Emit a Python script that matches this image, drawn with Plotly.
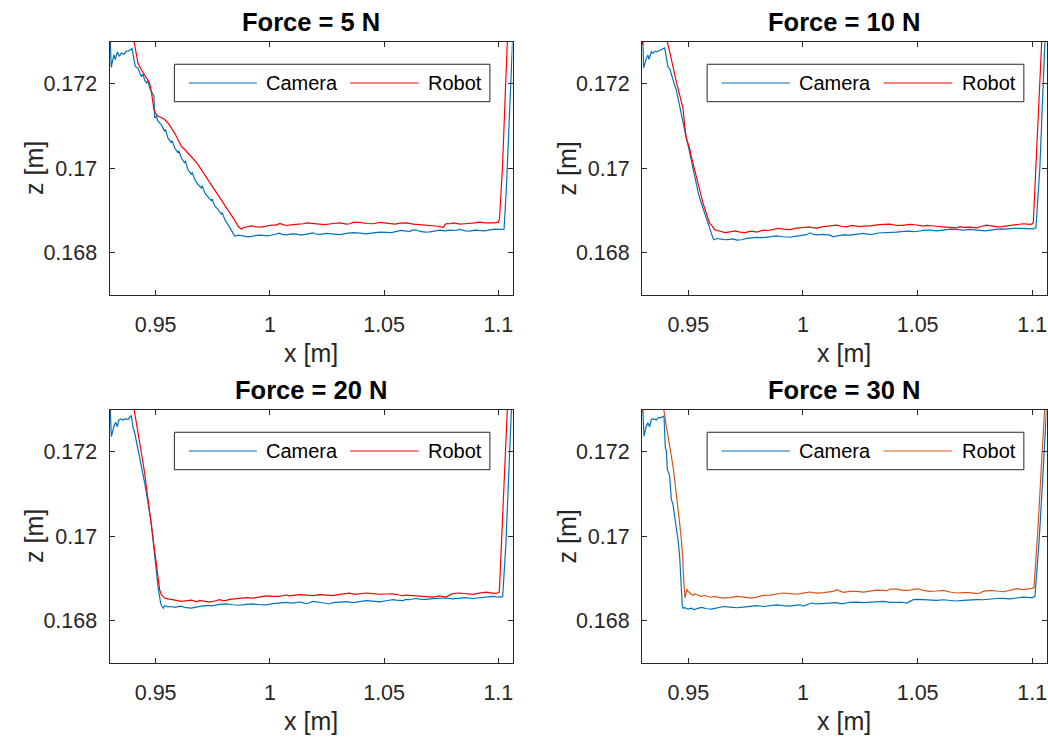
import plotly.graph_objects as go

# ---------------- data ----------------
X_TICKS = [0.95, 1.0, 1.05, 1.1]
X_TICKTEXT = ["0.95", "1", "1.05", "1.1"]
Z_TICKS = [0.168, 0.170, 0.172]
Z_TICKTEXT = ["0.168", "0.17", "0.172"]
X_RANGE = [0.9298, 1.1062]
Z_RANGE = [0.16699, 0.17299]

TITLES = ["Force = 5 N", "Force = 10 N", "Force = 20 N", "Force = 30 N"]
SERIES_NAMES = ["Camera", "Robot"]

# each series: list of (x [m], z [m]) samples
cam5 = [
    (0.9300, 0.17320), (0.93057, 0.17239), (0.93174, 0.17269), (0.93233, 0.17257), (0.93320, 0.17275),
    (0.93422, 0.17265), (0.93495, 0.17273), (0.93612, 0.17270), (0.93715, 0.17277), (0.93817, 0.17278),
    (0.93963, 0.17284), (0.94051, 0.17253), (0.94109, 0.17241), (0.94226, 0.17237), (0.94299, 0.17225),
    (0.94372, 0.17217), (0.94445, 0.17223), (0.94518, 0.17209), (0.94591, 0.17202), (0.94664, 0.17207),
    (0.94737, 0.17190), (0.94810, 0.17182), (0.94883, 0.17174), (0.94927, 0.17170), (0.94956, 0.17119),
    (0.95029, 0.17123), (0.95102, 0.17111), (0.95248, 0.17103), (0.95394, 0.17087), (0.95430, 0.17092),
    (0.95540, 0.17071), (0.95687, 0.17060), (0.95720, 0.17065), (0.95833, 0.17048), (0.95979, 0.17036),
    (0.96010, 0.17041), (0.96125, 0.17024), (0.96271, 0.17012), (0.96300, 0.17017), (0.96417, 0.16996),
    (0.96563, 0.16985), (0.96600, 0.16990), (0.96709, 0.16973), (0.96855, 0.16961), (0.97001, 0.16953),
    (0.97040, 0.16958), (0.97147, 0.16941), (0.97293, 0.16931), (0.97439, 0.16922), (0.97470, 0.16927),
    (0.97585, 0.16910), (0.97731, 0.16902), (0.97878, 0.16890), (0.97910, 0.16895), (0.98024, 0.16878),
    (0.98170, 0.16866), (0.98316, 0.16852), (0.98462, 0.16839),
    (0.98645, 0.16841), (0.98827, 0.168394), (0.99046, 0.16837), (0.99265, 0.168387), (0.99484, 0.16841),
    (0.99703, 0.168402), (0.99922, 0.16839), (1.00142, 0.168418), (1.00288, 0.16844), (1.00434, 0.168458),
    (1.00580, 0.16842), (1.00726, 0.168418), (1.00945, 0.16844), (1.01164, 0.168434), (1.01383, 0.16841),
    (1.01602, 0.168426), (1.01748, 0.16845), (1.01895, 0.168465), (1.02041, 0.16843), (1.02187, 0.168426),
    (1.02479, 0.16845), (1.02771, 0.168434), (1.03063, 0.16842), (1.03355, 0.168450), (1.03647, 0.16847),
    (1.03940, 0.168458), (1.04232, 0.16844), (1.04524, 0.168465), (1.04816, 0.16848), (1.05108, 0.168473),
    (1.05327, 0.16847), (1.05546, 0.168497), (1.05765, 0.16852), (1.05985, 0.168505), (1.06131, 0.16850),
    (1.06277, 0.168536), (1.06423, 0.16853), (1.06569, 0.168497), (1.06788, 0.16848), (1.07007, 0.168489),
    (1.07226, 0.16851), (1.07445, 0.168529), (1.07664, 0.16851), (1.07884, 0.168529), (1.08103, 0.16852),
    (1.08322, 0.168544), (1.08541, 0.16851), (1.08760, 0.168505), (1.08979, 0.16853), (1.09198, 0.168529),
    (1.09417, 0.16851), (1.09636, 0.168536), (1.09855, 0.16855), (1.10075, 0.168544), (1.10250, 0.168552),
    (1.1035, 0.16950), (1.1045, 0.17070), (1.1055, 0.17200), (1.1063, 0.17310),
]
rob5 = [
    (0.9299, 0.17292), (0.9304, 0.17400), (0.9372, 0.17400), (0.94051, 0.17299), (0.94153, 0.17269),
    (0.94226, 0.17249), (0.94372, 0.17233), (0.94518, 0.17221), (0.94664, 0.17209), (0.94737, 0.17202),
    (0.94810, 0.17182), (0.94883, 0.17154), (0.94927, 0.17138), (0.95029, 0.17128), (0.95102, 0.17123),
    (0.95248, 0.17120), (0.95394, 0.17115), (0.95540, 0.17107), (0.95687, 0.17095), (0.95833, 0.17083),
    (0.95979, 0.17067), (0.96125, 0.17052), (0.96271, 0.17044), (0.96417, 0.17036), (0.96563, 0.17026),
    (0.96709, 0.17018), (0.96855, 0.17008), (0.97001, 0.16996), (0.97147, 0.16985), (0.97293, 0.16973),
    (0.97439, 0.16961), (0.97585, 0.16949), (0.97731, 0.16939), (0.97878, 0.16925), (0.98024, 0.16914),
    (0.98170, 0.16902), (0.98316, 0.16890), (0.98462, 0.16876), (0.98608, 0.16862), (0.98754, 0.168552),
    (0.98864, 0.16859), (0.98973, 0.168607), (0.99192, 0.16863), (0.99411, 0.168607), (0.99630, 0.16860),
    (0.99849, 0.168623), (1.00068, 0.16865), (1.00288, 0.168647), (1.00434, 0.168686), (1.00580, 0.16866),
    (1.00726, 0.168639), (1.01018, 0.16866), (1.01310, 0.168670), (1.01456, 0.16868), (1.01602, 0.168702),
    (1.01821, 0.16869), (1.02041, 0.168670), (1.02406, 0.16866), (1.02771, 0.168686), (1.03063, 0.16870),
    (1.03355, 0.168670), (1.03501, 0.16868), (1.03647, 0.168710), (1.03940, 0.16871), (1.04232, 0.168686),
    (1.04524, 0.16868), (1.04816, 0.168710), (1.05035, 0.16870), (1.05254, 0.168686), (1.05473, 0.16867),
    (1.05692, 0.168694), (1.05985, 0.16870), (1.06277, 0.168670), (1.06569, 0.16866), (1.06861, 0.168647),
    (1.07007, 0.16865), (1.07153, 0.168639), (1.07372, 0.16862), (1.07591, 0.168592), (1.07664, 0.16866),
    (1.07737, 0.168686), (1.07884, 0.16868), (1.08030, 0.168702), (1.08176, 0.16869), (1.08322, 0.168670),
    (1.08541, 0.16868), (1.08760, 0.168686), (1.08979, 0.16870), (1.09198, 0.168718), (1.09417, 0.16870),
    (1.09636, 0.168702), (1.09818, 0.16870), (1.10001, 0.168718),
    (1.1005, 0.16880), (1.1018, 0.17000), (1.1030, 0.17150), (1.1040, 0.17310),
]

cam10 = [
    (0.93010, 0.17320), (0.93052, 0.17238), (0.93169, 0.17260), (0.93241, 0.17268), (0.93285, 0.17258),
    (0.93387, 0.17276), (0.93459, 0.17272), (0.93532, 0.17277), (0.93648, 0.17276), (0.93750, 0.17280),
    (0.93852, 0.17282), (0.93968, 0.17285), (0.94041, 0.17260), (0.94113, 0.17240), (0.94186, 0.17236),
    (0.94259, 0.17221), (0.94331, 0.17205), (0.94404, 0.17197), (0.94477, 0.17185), (0.94549, 0.17165),
    (0.94622, 0.17150), (0.94695, 0.17126), (0.94767, 0.17110), (0.94840, 0.17090), (0.94913, 0.17071),
    (0.94985, 0.17055), (0.95058, 0.17035), (0.95131, 0.17015), (0.95203, 0.16996), (0.95276, 0.16976),
    (0.95349, 0.16960), (0.95422, 0.16944), (0.95494, 0.16929), (0.95567, 0.16917), (0.95640, 0.16905),
    (0.95712, 0.16893), (0.95785, 0.16881), (0.95858, 0.16869), (0.95930, 0.16853), (0.96003, 0.16842),
    (0.96076, 0.16834), (0.96119, 0.16830),
    (0.96250, 0.16833), (0.96381, 0.168323), (0.96599, 0.16830), (0.96817, 0.168308), (0.96962, 0.16832),
    (0.97108, 0.168292), (0.97326, 0.16830), (0.97544, 0.168331), (0.97762, 0.16835), (0.97980, 0.168355),
    (0.98270, 0.16835), (0.98561, 0.168371), (0.98852, 0.16839), (0.99142, 0.168371), (0.99433, 0.16836),
    (0.99724, 0.168387), (0.99870, 0.16840), (1.00015, 0.168402), (1.00160, 0.16842), (1.00305, 0.168465),
    (1.00450, 0.16843), (1.00596, 0.168418), (1.00887, 0.16843), (1.01177, 0.168410), (1.01250, 0.16839),
    (1.01323, 0.168371), (1.01541, 0.16840), (1.01759, 0.168418), (1.02050, 0.16841), (1.02340, 0.168434),
    (1.02486, 0.16845), (1.02631, 0.168450), (1.02849, 0.16843), (1.03067, 0.168434), (1.03285, 0.16846),
    (1.03503, 0.168465), (1.03794, 0.16846), (1.04084, 0.168481), (1.04375, 0.16850), (1.04666, 0.168505),
    (1.04884, 0.16849), (1.05102, 0.168513), (1.05320, 0.16853), (1.05538, 0.168529), (1.05828, 0.16851),
    (1.06119, 0.168529), (1.06410, 0.16855), (1.06701, 0.168544), (1.06991, 0.16853), (1.07282, 0.168544),
    (1.07500, 0.16854), (1.07718, 0.168521), (1.07936, 0.16851), (1.08154, 0.168529), (1.08372, 0.16855),
    (1.08590, 0.168560), (1.08881, 0.16855), (1.09172, 0.168568), (1.09535, 0.16857), (1.09898, 0.168560),
    (1.10029, 0.16856), (1.10160, 0.168584),
    (1.1033, 0.17000), (1.1044, 0.17150), (1.1056, 0.17310),
]
rob10 = [
    (0.9299, 0.17292), (0.9304, 0.17400), (0.9395, 0.17400), (0.94084, 0.17299), (0.94186, 0.17276),
    (0.94259, 0.17256), (0.94331, 0.17236), (0.94404, 0.17221), (0.94477, 0.17205), (0.94549, 0.17189),
    (0.94622, 0.17173), (0.94695, 0.17153), (0.94767, 0.17142), (0.94840, 0.17102), (0.94913, 0.17071),
    (0.94985, 0.17059), (0.95058, 0.17047), (0.95131, 0.17027), (0.95203, 0.17011), (0.95276, 0.16992),
    (0.95349, 0.16976), (0.95422, 0.16960), (0.95494, 0.16944), (0.95567, 0.16929), (0.95640, 0.16917),
    (0.95712, 0.16905), (0.95785, 0.16893), (0.95858, 0.16881), (0.95930, 0.16869), (0.96003, 0.16865),
    (0.96076, 0.16858), (0.96148, 0.16854),
    (0.96265, 0.16852), (0.96381, 0.168505), (0.96599, 0.16847), (0.96817, 0.168489), (0.97035, 0.16851),
    (0.97253, 0.168481), (0.97471, 0.16847), (0.97689, 0.168497), (0.97835, 0.16850), (0.97980, 0.168481),
    (0.98125, 0.16850), (0.98270, 0.168529), (0.98488, 0.16852), (0.98706, 0.168544), (0.98924, 0.16857),
    (0.99142, 0.168552), (0.99433, 0.16854), (0.99724, 0.168576), (1.00015, 0.16860), (1.00305, 0.168607),
    (1.00450, 0.16858), (1.00596, 0.168576), (1.00887, 0.16861), (1.01177, 0.168623), (1.01323, 0.16863),
    (1.01468, 0.168647), (1.01686, 0.16862), (1.01904, 0.168607), (1.02122, 0.16864), (1.02340, 0.168623),
    (1.02486, 0.16861), (1.02631, 0.168623), (1.02922, 0.16863), (1.03212, 0.168655), (1.03358, 0.16865),
    (1.03503, 0.168663), (1.03794, 0.16867), (1.04084, 0.168639), (1.04375, 0.16864), (1.04666, 0.168663),
    (1.04957, 0.16865), (1.05247, 0.168623), (1.05393, 0.16864), (1.05538, 0.168639), (1.05828, 0.16862),
    (1.06119, 0.168607), (1.06410, 0.16860), (1.06701, 0.168584), (1.06846, 0.16861), (1.06991, 0.168592),
    (1.07282, 0.16860), (1.07573, 0.168584), (1.07791, 0.16862), (1.08009, 0.168647), (1.08227, 0.16863),
    (1.08445, 0.168607), (1.08663, 0.16861), (1.08881, 0.168623), (1.09099, 0.16865), (1.09317, 0.168663),
    (1.09608, 0.16868), (1.09898, 0.168663), (1.09971, 0.16867), (1.10044, 0.168702),
    (1.1018, 0.17020), (1.1030, 0.17170), (1.1042, 0.17310),
]

cam20 = [
    (0.9300, 0.17320), (0.93061, 0.17236), (0.93178, 0.17261), (0.93251, 0.17270), (0.93324, 0.17259),
    (0.93382, 0.17275), (0.93469, 0.17278), (0.93571, 0.17275), (0.93673, 0.17278), (0.93790, 0.17277),
    (0.93936, 0.17286), (0.94009, 0.17257), (0.94082, 0.17245), (0.94155, 0.17225), (0.94227, 0.17206),
    (0.94300, 0.17190), (0.94373, 0.17174), (0.94446, 0.17150), (0.94519, 0.17126), (0.94592, 0.17103),
    (0.94665, 0.17079), (0.94738, 0.17055), (0.94810, 0.17031), (0.94883, 0.16992), (0.94956, 0.16952),
    (0.95000, 0.16920), (0.95044, 0.16905), (0.95102, 0.16881), (0.95146, 0.16865), (0.95219, 0.16841),
    (0.95277, 0.16833), (0.95335, 0.16829), (0.95394, 0.16835), (0.95539, 0.16832), (0.95685, 0.16833),
    (0.95831, 0.16831),
    (0.96086, 0.16834), (0.96341, 0.168301), (0.96560, 0.16829), (0.96778, 0.168317), (0.96997, 0.16834),
    (0.97216, 0.168349), (0.97508, 0.16835), (0.97799, 0.168380), (0.98090, 0.16839), (0.98382, 0.168372),
    (0.98674, 0.16836), (0.98965, 0.168380), (0.99257, 0.16839), (0.99548, 0.168372), (0.99840, 0.16837),
    (1.00131, 0.168396), (1.00423, 0.16842), (1.00714, 0.168428), (1.01006, 0.16841), (1.01297, 0.168436),
    (1.01443, 0.16842), (1.01589, 0.168396), (1.01735, 0.16842), (1.01880, 0.168451), (1.02172, 0.16843),
    (1.02464, 0.168396), (1.02610, 0.16839), (1.02755, 0.168420), (1.03047, 0.16844), (1.03338, 0.168444),
    (1.03630, 0.16842), (1.03921, 0.168444), (1.04213, 0.16847), (1.04504, 0.168459), (1.04796, 0.16844),
    (1.05087, 0.168467), (1.05233, 0.16848), (1.05379, 0.168491), (1.05525, 0.16848), (1.05670, 0.168467),
    (1.05816, 0.16847), (1.05962, 0.168499), (1.06108, 0.16849), (1.06254, 0.168507), (1.06400, 0.16852),
    (1.06545, 0.168507), (1.06837, 0.16850), (1.07128, 0.168515), (1.07420, 0.16853), (1.07711, 0.168531),
    (1.08003, 0.16851), (1.08294, 0.168523), (1.08440, 0.16854), (1.08586, 0.168539), (1.08878, 0.16852),
    (1.09169, 0.168539), (1.09461, 0.16856), (1.09752, 0.168570), (1.09971, 0.16855), (1.10190, 0.168562),
    (1.1033, 0.16980), (1.1046, 0.17140), (1.1058, 0.17310),
]
rob20 = [
    (0.9299, 0.17292), (0.9304, 0.17400), (0.9390, 0.17400), (0.94052, 0.17301), (0.94155, 0.17269),
    (0.94227, 0.17245), (0.94300, 0.17221), (0.94373, 0.17202), (0.94446, 0.17178), (0.94519, 0.17150),
    (0.94592, 0.17118), (0.94665, 0.17087), (0.94738, 0.17055), (0.94810, 0.17023), (0.94883, 0.16984),
    (0.94956, 0.16952), (0.95029, 0.16928), (0.95102, 0.16897), (0.95175, 0.16873), (0.95248, 0.16861),
    (0.95321, 0.16857), (0.95394, 0.16853), (0.95539, 0.16851), (0.95685, 0.16849),
    (0.95904, 0.168475), (0.96123, 0.16845), (0.96341, 0.168459), (0.96560, 0.16848), (0.96778, 0.168444),
    (0.96851, 0.16845), (0.96924, 0.168475), (0.97143, 0.16846), (0.97362, 0.168436), (0.97580, 0.16846),
    (0.97799, 0.168491), (0.97945, 0.16847), (0.98090, 0.168475), (0.98236, 0.16850), (0.98382, 0.168507),
    (0.98674, 0.16852), (0.98965, 0.168539), (0.99257, 0.16853), (0.99548, 0.168554), (0.99840, 0.16858),
    (1.00131, 0.168570), (1.00423, 0.16857), (1.00714, 0.168602), (1.00860, 0.16858), (1.01006, 0.168594),
    (1.01152, 0.16861), (1.01297, 0.168610), (1.01589, 0.16860), (1.01880, 0.168586), (1.02172, 0.16861),
    (1.02464, 0.168594), (1.02756, 0.16859), (1.03047, 0.168618), (1.03266, 0.16864), (1.03484, 0.168649),
    (1.03703, 0.16862), (1.03921, 0.168634), (1.04213, 0.16865), (1.04504, 0.168634), (1.04796, 0.16862),
    (1.05087, 0.168626), (1.05379, 0.16863), (1.05670, 0.168602), (1.05816, 0.16859), (1.05962, 0.168602),
    (1.06254, 0.16859), (1.06545, 0.168570), (1.06837, 0.16857), (1.07128, 0.168554), (1.07420, 0.16858),
    (1.07711, 0.168554), (1.07857, 0.16860), (1.08003, 0.168634), (1.08295, 0.16865), (1.08586, 0.168634),
    (1.08878, 0.16862), (1.09169, 0.168649), (1.09461, 0.16867), (1.09752, 0.168649), (1.09898, 0.16864),
    (1.10044, 0.168673),
    (1.1016, 0.17000), (1.1028, 0.17150), (1.1040, 0.17310),
]

cam30 = [
    (0.9300, 0.17320), (0.93067, 0.17237), (0.93169, 0.17261), (0.93241, 0.17269), (0.93314, 0.17259),
    (0.93387, 0.17277), (0.93503, 0.17278), (0.93605, 0.17275), (0.93706, 0.17281), (0.93823, 0.17281),
    (0.93939, 0.17285), (0.93968, 0.17229), (0.93997, 0.17210), (0.94041, 0.17202), (0.94084, 0.17158),
    (0.94142, 0.17150), (0.94186, 0.17142), (0.94259, 0.17087), (0.94331, 0.17075), (0.94404, 0.17047),
    (0.94477, 0.17023), (0.94549, 0.16992), (0.94622, 0.16952), (0.94666, 0.16912), (0.94695, 0.16865),
    (0.94738, 0.16833), (0.94782, 0.16829), (0.94840, 0.16830), (0.94985, 0.16827), (0.95131, 0.16829),
    (0.95276, 0.16825),
    (0.95363, 0.16828), (0.95581, 0.16831), (0.95799, 0.168277), (0.96017, 0.16827), (0.96235, 0.168301),
    (0.96526, 0.16833), (0.96817, 0.168317), (0.97108, 0.16830), (0.97398, 0.168317), (0.97689, 0.16834),
    (0.97980, 0.168349), (0.98270, 0.16833), (0.98561, 0.168356), (0.98852, 0.16837), (0.99142, 0.168349),
    (0.99433, 0.16834), (0.99724, 0.168364), (0.99870, 0.16837), (1.00015, 0.168341), (1.00197, 0.16838),
    (1.00378, 0.168412), (1.00632, 0.16839), (1.00887, 0.168396), (1.01177, 0.16842), (1.01468, 0.168420),
    (1.01614, 0.16840), (1.01759, 0.168396), (1.02050, 0.16843), (1.02340, 0.168436), (1.02631, 0.16842),
    (1.02922, 0.168428), (1.03212, 0.16845), (1.03503, 0.168451), (1.03794, 0.16843), (1.04084, 0.168436),
    (1.04302, 0.16843), (1.04520, 0.168412), (1.04666, 0.16846), (1.04811, 0.168491), (1.05029, 0.16850),
    (1.05247, 0.168491), (1.05538, 0.16847), (1.05828, 0.168475), (1.06119, 0.16849), (1.06410, 0.168467),
    (1.06700, 0.16846), (1.06991, 0.168475), (1.07282, 0.16849), (1.07573, 0.168491), (1.07864, 0.16849),
    (1.08154, 0.168507), (1.08445, 0.16852), (1.08735, 0.168523), (1.09026, 0.16851), (1.09317, 0.168531),
    (1.09608, 0.16855), (1.09898, 0.168539), (1.10007, 0.16854), (1.10116, 0.168570),
    (1.1030, 0.16990), (1.1047, 0.17150), (1.1063, 0.17310),
]
rob30 = [
    (0.9299, 0.17292), (0.9304, 0.17400), (0.9385, 0.17400), (0.93939, 0.17297), (0.94041, 0.17261),
    (0.94113, 0.17237), (0.94186, 0.17217), (0.94259, 0.17194), (0.94331, 0.17166), (0.94404, 0.17134),
    (0.94477, 0.17103), (0.94549, 0.17071), (0.94622, 0.17031), (0.94695, 0.16992), (0.94753, 0.16952),
    (0.94797, 0.16897), (0.94826, 0.16865), (0.94855, 0.16853), (0.94884, 0.16861), (0.94942, 0.16874),
    (0.94985, 0.16869), (0.95058, 0.16865), (0.95131, 0.16861), (0.95203, 0.16859), (0.95276, 0.16863),
    (0.95422, 0.16859), (0.95567, 0.16857), (0.95712, 0.16859), (0.96003, 0.16855),
    (0.96119, 0.16857), (0.96235, 0.168554), (0.96526, 0.16853), (0.96817, 0.168539), (0.96962, 0.16855),
    (0.97108, 0.168570), (0.97326, 0.16856), (0.97544, 0.168539), (0.97762, 0.16853), (0.97980, 0.168554),
    (0.98125, 0.16857), (0.98270, 0.168594), (0.98561, 0.16860), (0.98852, 0.168634), (0.99142, 0.16865),
    (0.99433, 0.168634), (0.99724, 0.16862), (1.00015, 0.168649), (1.00160, 0.16867), (1.00305, 0.168673),
    (1.00450, 0.16866), (1.00596, 0.168649), (1.00887, 0.16866), (1.01177, 0.168673), (1.01323, 0.16869),
    (1.01468, 0.168729), (1.01614, 0.16869), (1.01759, 0.168665), (1.02050, 0.16869), (1.02340, 0.168689),
    (1.02631, 0.16867), (1.02922, 0.168697), (1.03212, 0.16872), (1.03503, 0.168713), (1.03649, 0.16870),
    (1.03794, 0.168744), (1.04084, 0.16874), (1.04375, 0.168713), (1.04593, 0.16871), (1.04811, 0.168737),
    (1.05029, 0.16875), (1.05247, 0.168713), (1.05538, 0.16869), (1.05828, 0.168697), (1.06119, 0.16871),
    (1.06410, 0.168673), (1.06700, 0.16865), (1.06991, 0.168657), (1.07282, 0.16866), (1.07573, 0.168634),
    (1.07718, 0.16865), (1.07863, 0.168689), (1.08154, 0.16871), (1.08445, 0.168697), (1.08735, 0.16868),
    (1.09026, 0.168713), (1.09172, 0.16873), (1.09317, 0.168752), (1.09608, 0.16873), (1.09898, 0.168744),
    (1.09985, 0.16876), (1.10073, 0.168776),
    (1.1025, 0.17020), (1.1040, 0.17170), (1.1055, 0.17310),
]

CAMERA_COLOR = "#0072BD"
ROBOT_COLORS = ["#FF0000", "#FF0000", "#FF0000", "#D95319"]
panels = [(cam5, rob5), (cam10, rob10), (cam20, rob20), (cam30, rob30)]

# ---------------- layout geometry ----------------
W, H = 1048, 738
COL_DOMAINS = [[109.5 / W, 512.5 / W], [642 / W, 1046.5 / W]]
ROW_DOMAINS = [[(H - 295) / H, (H - 42) / H], [(H - 663) / H, (H - 410) / H]]

FONT = "Liberation Sans, Arial, Helvetica, sans-serif"
AXCOL = "#262626"

fig = go.Figure()
layout = dict(
    width=W, height=H,
    margin=dict(l=0, r=0, t=0, b=0),
    paper_bgcolor="white", plot_bgcolor="white",
    showlegend=False,
    font=dict(family=FONT, color=AXCOL),
)
shapes = []
annotations = []

for i, (cam, rob) in enumerate(panels):
    r, c = divmod(i, 2)
    n = "" if i == 0 else str(i + 1)
    xa, ya = "x" + n, "y" + n
    fig.add_trace(go.Scatter(x=[p[0] for p in cam], y=[p[1] for p in cam], mode="lines",
                             name=SERIES_NAMES[0], line=dict(color=CAMERA_COLOR, width=1.2),
                             xaxis=xa, yaxis=ya))
    fig.add_trace(go.Scatter(x=[p[0] for p in rob], y=[p[1] for p in rob], mode="lines",
                             name=SERIES_NAMES[1], line=dict(color=ROBOT_COLORS[i], width=1.2),
                             xaxis=xa, yaxis=ya))
    axcommon = dict(showline=True, linecolor=AXCOL, linewidth=1, mirror="ticks",
                    ticks="inside", ticklen=5, tickwidth=1, tickcolor=AXCOL,
                    showgrid=False, zeroline=False,
                    tickfont=dict(family=FONT, size=21.5, color=AXCOL))
    layout["xaxis" + n] = dict(axcommon, domain=COL_DOMAINS[c], range=X_RANGE,
                               tickvals=X_TICKS, ticktext=X_TICKTEXT, anchor=ya,
                               ticklabelstandoff=10)
    layout["yaxis" + n] = dict(axcommon, domain=ROW_DOMAINS[r], range=Z_RANGE,
                               tickvals=Z_TICKS, ticktext=Z_TICKTEXT, anchor=xa,
                               ticklabelstandoff=7)

    xcen = (COL_DOMAINS[c][0] + COL_DOMAINS[c][1]) / 2
    ytop = ROW_DOMAINS[r][1]
    ybot = ROW_DOMAINS[r][0]
    ymid = (ROW_DOMAINS[r][0] + ROW_DOMAINS[r][1]) / 2
    annotations.append(dict(text="<b>" + TITLES[i] + "</b>", x=xcen, y=ytop + 20 / H,
                            xref="paper", yref="paper", xanchor="center", yanchor="middle",
                            showarrow=False, font=dict(family=FONT, size=25.5, color="black")))
    annotations.append(dict(text="x [m]", x=xcen, y=ybot - 58 / H, xref="paper", yref="paper",
                            xanchor="center", yanchor="middle", showarrow=False,
                            font=dict(family=FONT, size=25, color=AXCOL)))
    annotations.append(dict(text="z [m]", x=COL_DOMAINS[c][0] - 76 / W, y=ymid,
                            xref="paper", yref="paper", xanchor="center", yanchor="middle",
                            textangle=-90, showarrow=False,
                            font=dict(family=FONT, size=25, color=AXCOL)))
    xd, yd = xa + " domain", ya + " domain"
    shapes.append(dict(type="rect", xref=xd, yref=yd, x0=0.161, x1=0.944, y0=0.764, y1=0.912,
                       fillcolor="white", line=dict(color=AXCOL, width=1), layer="above"))
    shapes.append(dict(type="line", xref=xd, yref=yd, x0=0.197, x1=0.366, y0=0.838, y1=0.838,
                       line=dict(color=CAMERA_COLOR, width=1.2), layer="above"))
    shapes.append(dict(type="line", xref=xd, yref=yd, x0=0.597, x1=0.767, y0=0.838, y1=0.838,
                       line=dict(color=ROBOT_COLORS[i], width=1.2), layer="above"))
    annotations.append(dict(text=SERIES_NAMES[0], x=0.384, y=0.838, xref=xd, yref=yd,
                            xanchor="left", yanchor="middle", showarrow=False,
                            font=dict(family=FONT, size=20, color="black")))
    annotations.append(dict(text=SERIES_NAMES[1], x=0.786, y=0.838, xref=xd, yref=yd,
                            xanchor="left", yanchor="middle", showarrow=False,
                            font=dict(family=FONT, size=20, color="black")))

layout["shapes"] = shapes
layout["annotations"] = annotations
fig.update_layout(**layout)
fig.write_html("out.html")
